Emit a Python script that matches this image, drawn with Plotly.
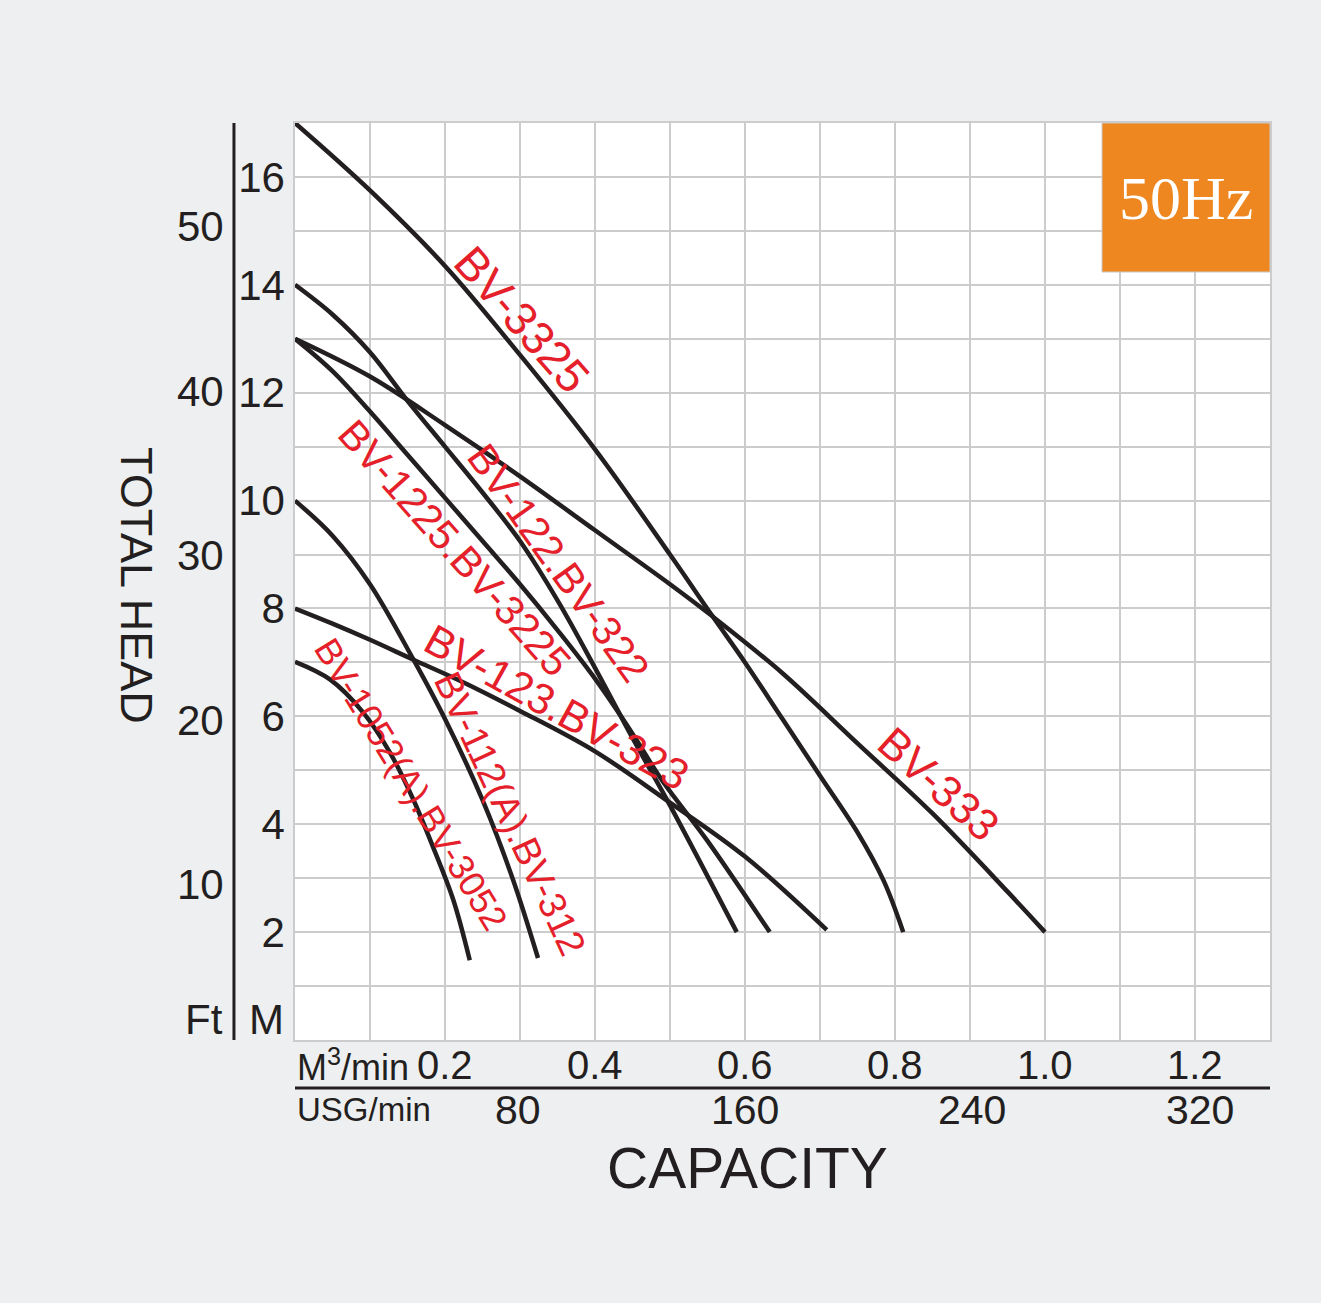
import plotly.graph_objects as go

# pump curves: capacity (m3/min) vs total head (m)
bv3325_q = [0, 0.1, 0.2, 0.3, 0.4, 0.5, 0.557, 0.6, 0.65, 0.7, 0.75, 0.785, 0.811]
bv3325_h = [17.0, 15.75, 14.35, 12.7, 10.95, 9.0, 7.85, 7.0, 5.95, 4.9, 3.85, 2.95, 2.0]

bv333_q = [0, 0.1, 0.2, 0.3, 0.4, 0.5, 0.557, 0.65, 0.75, 0.85, 0.95, 1.0]
bv333_h = [13.0, 12.3, 11.4, 10.45, 9.45, 8.45, 7.85, 6.8, 5.5, 4.2, 2.75, 2.0]

bv122_q = [0, 0.05, 0.1, 0.15, 0.2, 0.25, 0.3, 0.35, 0.4, 0.45, 0.5, 0.589]
bv122_h = [14.0, 13.45, 12.75, 11.85, 11.0, 10.15, 9.25, 8.15, 6.9, 5.6, 4.35, 2.0]

bv1225_q = [0, 0.05, 0.1, 0.15, 0.2, 0.25, 0.3, 0.35, 0.4, 0.45, 0.49, 0.549, 0.633]
bv1225_h = [13.0, 12.4, 11.65, 10.85, 10.05, 9.25, 8.45, 7.6, 6.7, 5.68, 4.8, 3.71, 2.0]

bv123_q = [0, 0.05, 0.1, 0.158, 0.22, 0.3, 0.4, 0.5, 0.6, 0.709]
bv123_h = [8.0, 7.72, 7.42, 7.05, 6.66, 6.1, 5.35, 4.4, 3.4, 2.04]

bv112_q = [0, 0.05, 0.1, 0.158, 0.2, 0.25, 0.29, 0.324]
bv112_h = [10.0, 9.35, 8.45, 7.05, 5.95, 4.45, 3.0, 1.52]

bv1052_q = [0, 0.047, 0.091, 0.127, 0.158, 0.184, 0.211, 0.233]
bv1052_h = [7.01, 6.68, 6.07, 5.32, 4.45, 3.58, 2.6, 1.48]

curves = [
    (bv3325_q, bv3325_h),
    (bv333_q, bv333_h),
    (bv122_q, bv122_h),
    (bv1225_q, bv1225_h),
    (bv123_q, bv123_h),
    (bv112_q, bv112_h),
    (bv1052_q, bv1052_h),
]

# curve labels: text, where they sit (m3/min, m)
curve_labels = ["BV-3325", "BV-333", "BV-122.BV-322", "BV-1225.BV-3225",
                "BV-123.BV-323", "BV-112(A).BV-312", "BV-1052(A).BV-3052"]
label_q = [0.302, 0.858, 0.351, 0.213, 0.349, 0.286, 0.155]
label_h = [13.37, 4.76, 8.84, 9.13, 6.18, 4.20, 4.74]

# axis ticks
head_m_ticks = [2, 4, 6, 8, 10, 12, 14, 16]
head_ft_ticks = [10, 20, 30, 40, 50]
cap_ticks = [0.2, 0.4, 0.6, 0.8, 1.0, 1.2]
cap_tick_text = ["0.2", "0.4", "0.6", "0.8", "1.0", "1.2"]
usg_ticks = [80, 160, 240, 320]

FT_TO_M = 0.3048
USG_TO_M3 = 0.0037854

INK = "#231f20"
RED = "#e5202a"
GRID = "#cccccc"
BG = "#eeeff1"
FONT = "Liberation Sans, Arial, sans-serif"

# label styling (rotation in degrees clockwise, font size)
label_angle = [48.5, 42, 54.5, 48.4, 29, 65, 58.5]
label_size = [46, 44, 41, 41, 43, 38, 36]


def main():
    fig = go.Figure()

    for q, h in curves:
        fig.add_trace(go.Scatter(
            x=q, y=h, mode="lines",
            line=dict(color=INK, width=4.5, shape="spline", smoothing=1.0),
            hoverinfo="skip", showlegend=False,
        ))

    for text, q, h, ang, size in zip(curve_labels, label_q, label_h, label_angle, label_size):
        fig.add_annotation(x=q, y=h, xref="x", yref="y", text=text, textangle=ang,
                           showarrow=False, font=dict(family=FONT, size=size, color=RED))

    fig.update_xaxes(range=[0, 1.3], dtick=0.1, tick0=0, showticklabels=False,
                     showgrid=True, gridcolor=GRID, gridwidth=1.5, zeroline=False,
                     showline=True, linecolor=GRID, linewidth=1.5, mirror=True, ticks="")
    fig.update_yaxes(range=[0, 17], tickmode="array", tickvals=head_m_ticks,
                     ticktext=[str(v) for v in head_m_ticks],
                     minor=dict(tick0=0, dtick=1, showgrid=True, gridcolor=GRID, gridwidth=1.5),
                     showgrid=True, gridcolor=GRID, gridwidth=1.5, zeroline=False,
                     showline=True, linecolor=GRID, linewidth=1.5, mirror=True,
                     ticks="", tickfont=dict(family=FONT, size=42, color=INK))

    # m3/min labels just under the plot
    for v, t in zip(cap_ticks, cap_tick_text):
        fig.add_annotation(x=v, y=-0.0273, xref="x", yref="paper", text=t,
                           xanchor="center", yanchor="middle", showarrow=False,
                           font=dict(family=FONT, size=40, color=INK))

    # feet scale on the left
    for ft in head_ft_ticks:
        fig.add_annotation(x=-0.071, y=ft * FT_TO_M, xref="paper", yref="y", text=str(ft),
                           xanchor="right", yanchor="middle", yshift=-9, showarrow=False,
                           font=dict(family=FONT, size=42, color=INK))

    # USG/min scale under the m3/min one
    for usg in usg_ticks:
        fig.add_annotation(x=usg * USG_TO_M3, y=-0.0763, xref="x", yref="paper", text=str(usg),
                           xanchor="center", yanchor="middle", xshift=-4, showarrow=False,
                           font=dict(family=FONT, size=41, color=INK))

    fig.add_annotation(x=0.0, y=-0.027, xref="paper", yref="paper", text="M<sup>3</sup>/min",
                       xanchor="left", yanchor="middle", showarrow=False,
                       font=dict(family=FONT, size=36, color=INK))
    fig.add_annotation(x=0.0, y=-0.0763, xref="paper", yref="paper", text="USG/min",
                       xanchor="left", yanchor="middle", showarrow=False,
                       font=dict(family=FONT, size=33, color=INK))
    fig.add_annotation(x=0.4646, y=-0.1396, xref="paper", yref="paper", text="CAPACITY",
                       xanchor="center", yanchor="middle", showarrow=False,
                       font=dict(family=FONT, size=57, color=INK))
    fig.add_annotation(x=-0.162, y=0.496, xref="paper", yref="paper", text="TOTAL HEAD",
                       textangle=90, xanchor="center", yanchor="middle", showarrow=False,
                       font=dict(family=FONT, size=45, color=INK))
    fig.add_annotation(x=-0.072, y=0.022, xref="paper", yref="paper", text="Ft",
                       xanchor="right", yanchor="middle", showarrow=False,
                       font=dict(family=FONT, size=42, color=INK))
    fig.add_annotation(x=-0.049, y=0.022, xref="paper", yref="paper", text="M",
                       xanchor="left", yanchor="middle", showarrow=False,
                       font=dict(family=FONT, size=42, color=INK))

    # left axis rule and separator under m3/min
    fig.add_shape(type="line", xref="paper", yref="paper", x0=-0.0626, x1=-0.0626, y0=0, y1=1,
                  line=dict(color=INK, width=3))
    fig.add_shape(type="line", xref="paper", yref="paper", x0=0, x1=1, y0=-0.0523, y1=-0.0523,
                  line=dict(color=INK, width=3))

    # 50Hz badge
    fig.add_shape(type="rect", xref="paper", yref="paper", x0=0.8277, x1=1.0, y0=0.8375, y1=1.0,
                  fillcolor="#ef8720", line=dict(color="#c8c8c8", width=1), layer="above")
    fig.add_annotation(x=0.9138, y=0.918, xref="paper", yref="paper", text="50Hz",
                       xanchor="center", yanchor="middle", showarrow=False,
                       font=dict(family="Liberation Serif, Times New Roman, serif", size=62, color="white"))

    fig.update_layout(
        width=1321, height=1303,
        margin=dict(l=295, r=51, t=123, b=263),
        paper_bgcolor=BG, plot_bgcolor="white",
        font=dict(family=FONT, color=INK),
    )

    # drop the default page margin so the figure fills the window
    fig.write_html("out.html", config={"displayModeBar": False}, post_script=(
        "document.body.style.margin='0';"
        "document.body.style.background='" + BG + "';"
    ))


if __name__ == "__main__":
    main()
